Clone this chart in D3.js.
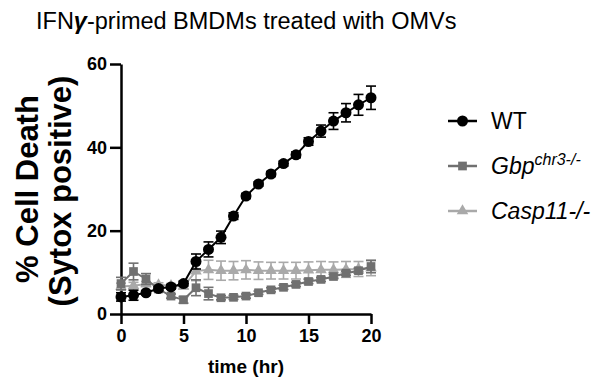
<!DOCTYPE html>
<html>
<head>
<meta charset="utf-8">
<script src="https://cdn.jsdelivr.net/npm/d3@7"></script>
<style>
  body { margin: 0; background: #fff; }
  svg { font-family: 'Liberation Sans', Arial, Helvetica, sans-serif; }
</style>
</head>
<body>
<svg width="592" height="378"></svg>
<script>
// hours 0..20
var hours = [0, 1, 2, 3, 4, 5, 6, 7, 8, 9, 10, 11, 12, 13, 14, 15, 16, 17, 18, 19, 20];

var wtMean = [4.1, 4.5, 5.1, 6.1, 6.5, 7.3, 12.6, 15.5, 18.4, 23.5, 28.3, 31.2, 33.6, 36.1, 38.2, 41.4, 43.9, 46.3, 48.3, 50.2, 51.9];
var wtErr = [1.0, 1.2, 0.5, 0.5, 0.5, 0.6, 1.8, 1.8, 1.5, 0.8, 0.6, 0.5, 0.6, 0.6, 0.7, 0.9, 1.45, 2.0, 2.2, 2.5, 2.8];

var gbpMean = [7.3, 10.2, 8.4, 6.0, 4.3, 3.4, 6.3, 4.9, 3.9, 4.0, 4.3, 5.1, 5.8, 6.4, 7.1, 7.8, 8.3, 9.0, 9.8, 10.4, 11.4];
var gbpErr = [1.5, 2.0, 1.3, 0.6, 0.5, 0.8, 1.9, 1.5, 0.5, 0.5, 0.5, 0.4, 0.5, 0.5, 0.5, 0.5, 0.5, 0.5, 0.5, 0.6, 1.5];

var caspMean = [6.6, 6.8, 7.2, 7.0, 6.8, 6.6, 10.3, 10.6, 10.4, 10.4, 10.6, 10.4, 10.4, 10.4, 10.4, 10.5, 10.6, 10.6, 10.7, 10.8, 11.0];
var caspErr = [0.8, 0.8, 0.6, 0.5, 0.5, 0.5, 2.3, 2.3, 2.3, 2.2, 2.2, 2.1, 2.0, 2.0, 2.0, 2.0, 2.0, 1.9, 1.9, 1.8, 1.8];

var xTicks = [0, 5, 10, 15, 20];
var yTicks = [0, 20, 40, 60];

var svg = d3.select('svg');

var x = d3.scaleLinear().domain([0, 20]).range([121, 371]);
var y = d3.scaleLinear().domain([0, 60]).range([314, 64]);

// 標題
svg.append('text')
  .attr('x', 36)
  .attr('y', 29)
  .attr('font-size', '23.5px')
  .attr('fill', '#000')
  .html('IFN<tspan font-weight="bold" font-style="italic">γ</tspan>-primed BMDMs treated with OMVs');

// 軸
var yAxis = svg.append('g')
  .attr('transform', 'translate(121,0)')
  .call(d3.axisLeft(y).tickValues(yTicks).tickSize(11).tickSizeOuter(0).tickPadding(3));
var xAxis = svg.append('g')
  .attr('transform', 'translate(0,314)')
  .call(d3.axisBottom(x).tickValues(xTicks).tickSize(10).tickSizeOuter(0).tickPadding(5));

[xAxis, yAxis].forEach(function (a) {
  a.selectAll('path, line').attr('stroke', '#000').attr('stroke-width', 2.5);
  a.selectAll('text')
    .attr('font-size', '18px')
    .attr('font-weight', 'bold')
    .attr('fill', '#000')
    .attr('font-family', "'Liberation Sans', Arial, sans-serif");
});

// 軸標籤
svg.append('text')
  .attr('transform', 'translate(38,189) rotate(-90)')
  .attr('text-anchor', 'middle')
  .attr('font-size', '31px')
  .attr('font-weight', 'bold')
  .text('% Cell Death');
svg.append('text')
  .attr('transform', 'translate(71,191) rotate(-90)')
  .attr('text-anchor', 'middle')
  .attr('font-size', '31px')
  .attr('font-weight', 'bold')
  .text('(Sytox positive)');

svg.append('text')
  .attr('x', 246)
  .attr('y', 373)
  .attr('text-anchor', 'middle')
  .attr('font-size', '19px')
  .attr('font-weight', 'bold')
  .text('time (hr)');

var series = [
  { name: 'casp', mean: caspMean, err: caspErr, color: '#a9a9a9', shape: d3.symbolTriangle, size: 58 },
  { name: 'gbp', mean: gbpMean, err: gbpErr, color: '#707070', shape: d3.symbolSquare, size: 76 },
  { name: 'wt', mean: wtMean, err: wtErr, color: '#000', shape: d3.symbolCircle, size: 95 }
];

var line = d3.line()
  .x(function (d) { return x(d.t); })
  .y(function (d) { return y(d.v); });

series.forEach(function (s) {
  var pts = hours.map(function (t, i) { return { t: t, v: s.mean[i], e: s.err[i] }; });
  var g = svg.append('g');

  // 誤差線
  var eb = g.selectAll('g.eb').data(pts).enter().append('g')
    .attr('stroke', s.color).attr('stroke-width', 1.6);
  eb.append('line')
    .attr('x1', function (d) { return x(d.t); })
    .attr('x2', function (d) { return x(d.t); })
    .attr('y1', function (d) { return y(d.v - d.e); })
    .attr('y2', function (d) { return y(d.v + d.e); });
  eb.append('line')
    .attr('x1', function (d) { return x(d.t) - 5; })
    .attr('x2', function (d) { return x(d.t) + 5; })
    .attr('y1', function (d) { return y(d.v + d.e); })
    .attr('y2', function (d) { return y(d.v + d.e); });
  eb.append('line')
    .attr('x1', function (d) { return x(d.t) - 5; })
    .attr('x2', function (d) { return x(d.t) + 5; })
    .attr('y1', function (d) { return y(d.v - d.e); })
    .attr('y2', function (d) { return y(d.v - d.e); });

  g.append('path')
    .datum(pts)
    .attr('d', line)
    .attr('fill', 'none')
    .attr('stroke', s.color)
    .attr('stroke-width', 2);

  g.selectAll('path.pt').data(pts).enter().append('path')
    .attr('class', 'pt')
    .attr('d', d3.symbol().type(s.shape).size(s.size))
    .attr('transform', function (d) { return 'translate(' + x(d.t) + ',' + y(d.v) + ')'; })
    .attr('fill', s.color);
});

// 圖例
var legend = [
  { label: 'WT', color: '#000', shape: d3.symbolCircle, size: 95, y: 121 },
  { label: 'Gbp', sup: 'chr3-/-', color: '#707070', shape: d3.symbolSquare, size: 76, y: 166 },
  { label: 'Casp11-/-', color: '#a9a9a9', shape: d3.symbolTriangle, size: 58, y: 211 }
];

legend.forEach(function (l, i) {
  var lg = svg.append('g').attr('transform', 'translate(0,' + l.y + ')');
  lg.append('line')
    .attr('x1', 448).attr('x2', 477)
    .attr('stroke', l.color).attr('stroke-width', 2.5);
  lg.append('path')
    .attr('d', d3.symbol().type(l.shape).size(l.size))
    .attr('transform', 'translate(462.5,0)')
    .attr('fill', l.color);
  var t = lg.append('text')
    .attr('x', 491)
    .attr('y', 8)
    .attr('font-size', '23px')
    .attr('fill', '#000');
  if (i === 0) {
    t.text(l.label);
  } else {
    t.attr('font-style', 'italic').text(l.label);
    if (l.sup) {
      t.append('tspan').attr('font-size', '16px').attr('dy', -9).text(l.sup);
    }
  }
});
</script>
</body>
</html>
